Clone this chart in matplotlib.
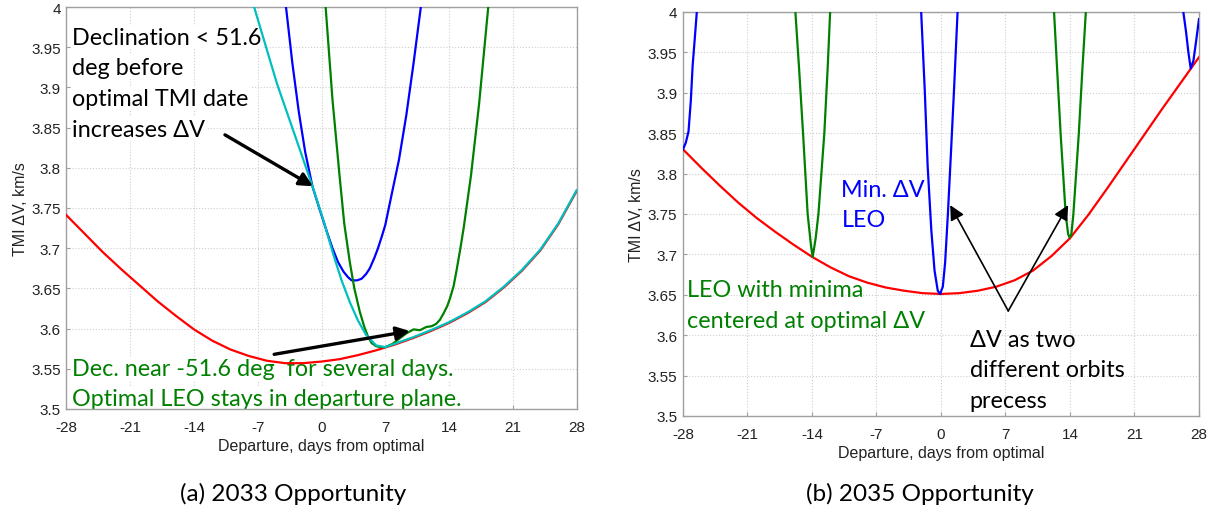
import numpy as np
import matplotlib.pyplot as plt
from matplotlib.ticker import FuncFormatter

plt.rcParams['axes.unicode_minus'] = False

# ---------------- data ----------------
# (a) 2033 opportunity
opt33_days = [-28, -26, -24, -22, -20, -18, -16, -14, -12, -10, -8, -6, -4, -2, 0,
              2, 4, 6, 8, 10, 12, 14, 16, 18, 20, 22, 24, 26, 28]
opt33_dv = [3.741, 3.718, 3.695, 3.674, 3.654, 3.634, 3.616, 3.599, 3.585, 3.574, 3.566,
            3.560, 3.557, 3.557, 3.559, 3.562, 3.567, 3.573, 3.580, 3.588, 3.597, 3.607,
            3.619, 3.633, 3.651, 3.672, 3.697, 3.730, 3.771]

cyan33_days = [-7.4, -4.9, -2.3, -1.0, 0.2, 1.3, 2.2, 3.1, 4.0, 4.9, 6.0, 7.0,
               8, 10, 12, 14, 16, 18, 20, 22, 24, 26, 28]
cyan33_dv = [4.0, 3.905, 3.82, 3.777, 3.735, 3.692, 3.66, 3.633, 3.61, 3.592, 3.579, 3.577,
             3.581, 3.589, 3.598, 3.608, 3.620, 3.634, 3.652, 3.673, 3.698, 3.731, 3.772]

blue33_days = [-3.9, -3.2, -2.5, -1.8, -1.0, -0.2, 0.6, 1.2, 1.8, 2.4, 2.9, 3.3, 3.9, 4.4,
               4.9, 5.3, 5.8, 6.2, 6.6, 7.0, 7.7, 8.5, 9.3, 10.1, 10.9]
blue33_dv = [4.0, 3.93, 3.87, 3.82, 3.777, 3.748, 3.72, 3.70, 3.683, 3.671, 3.664, 3.660,
             3.660, 3.662, 3.668, 3.675, 3.688, 3.70, 3.714, 3.729, 3.767, 3.81, 3.865, 3.93, 4.0]

green33_days = [0.45, 1.2, 2.0, 2.5, 3.1, 3.6, 4.2, 4.7, 5.1, 5.5, 6.0, 6.5, 7.0, 7.8, 8.6,
                9.3, 10.1, 10.8, 11.5, 12.1, 12.6, 13.0, 13.4, 13.8, 14.1, 14.5, 14.8, 15.2,
                15.6, 16.4, 17.3, 18.3]
green33_dv = [4.0, 3.885, 3.7875, 3.73, 3.683, 3.65, 3.621, 3.602, 3.59, 3.582, 3.578, 3.577,
              3.577, 3.581, 3.588, 3.594, 3.599, 3.598, 3.602, 3.603, 3.606, 3.611, 3.619,
              3.628, 3.6375, 3.653, 3.671, 3.697, 3.725, 3.79, 3.88, 4.0]

# (b) 2035 opportunity
opt35_days = [-28, -26, -24, -22, -20, -18, -16, -14, -12, -10, -8, -6, -4, -2, 0,
              2, 4, 6, 8, 10, 12, 14, 16, 18, 20, 22, 24, 26, 28]
opt35_dv = [3.830, 3.807, 3.785, 3.764, 3.745, 3.728, 3.712, 3.697, 3.684, 3.673, 3.665,
            3.659, 3.655, 3.652, 3.651, 3.652, 3.655, 3.660, 3.668, 3.680, 3.698, 3.720,
            3.749, 3.781, 3.814, 3.847, 3.880, 3.912, 3.944]

blue35a_days = [-28, -27.7, -27.4, -27.15, -26.95, -26.7, -26.5]
blue35a_dv = [3.83, 3.838, 3.852, 3.89, 3.934, 3.97, 4.0]
blue35b_days = [-2.15, -1.75, -1.45, -1.05, -0.7, -0.35, -0.1, 0.2, 0.45, 0.75, 1.1, 1.4, 1.8]
blue35b_dv = [4.0, 3.90, 3.81, 3.73, 3.68, 3.655, 3.651, 3.66, 3.69, 3.75, 3.83, 3.90, 4.0]
blue35c_days = [26.3, 26.6, 26.85, 27.1, 27.4, 27.7, 28]
blue35c_dv = [4.0, 3.975, 3.95, 3.93, 3.94, 3.965, 3.991]

green35a_days = [-15.8, -15.4, -14.97, -14.47, -14.1, -13.92, -13.6, -13.3, -12.66, -12.3, -12.03]
green35a_dv = [4.0, 3.93, 3.85, 3.75, 3.71, 3.697, 3.72, 3.75, 3.85, 3.93, 4.0]
green35b_days = [12.27, 12.6, 12.98, 13.53, 13.8, 13.95, 14.15, 14.37, 14.96, 15.35, 15.72]
green35b_dv = [4.0, 3.93, 3.85, 3.75, 3.725, 3.721, 3.725, 3.75, 3.85, 3.93, 4.0]

day_ticks = [-28, -21, -14, -7, 0, 7, 14, 21, 28]
dv_ticks = [3.5, 3.55, 3.6, 3.65, 3.7, 3.75, 3.8, 3.85, 3.9, 3.95, 4.0]

RED = '#ff0000'
BLUE = '#0000ff'
GREEN = '#008000'
CYAN = '#00bfbf'
TEXT_FONT = ['Lato', 'DejaVu Sans']
AXIS_FONT = ['Liberation Sans', 'DejaVu Sans']


def style_axes(ax):
    ax.set_xlim(-28, 28)
    ax.set_ylim(3.5, 4.0)
    ax.set_xticks(day_ticks)
    ax.set_yticks(dv_ticks)
    ax.yaxis.set_major_formatter(FuncFormatter(lambda v, p: '%g' % v))
    ax.grid(True, color='#cfcfcf', linestyle=':', linewidth=0.8)
    ax.set_axisbelow(True)
    for s in ax.spines.values():
        s.set_color('#a0a0a0')
        s.set_linewidth(1.0)
    ax.tick_params(direction='in', length=3, color='#a0a0a0', labelsize=11,
                   labelcolor='#222222')
    ax.tick_params(axis='x', pad=8)
    ax.tick_params(axis='y', pad=4)
    for lab in ax.get_xticklabels() + ax.get_yticklabels():
        lab.set_family(AXIS_FONT)
    ax.set_xlabel('Departure, days from optimal', fontsize=11.5, family=AXIS_FONT,
                  color='#222222', labelpad=3)
    ax.set_ylabel('TMI ΔV, km/s', fontsize=11.5, family=AXIS_FONT, color='#222222')
    ax.yaxis.set_label_coords(-0.075, 0.5)


def add_lines(ax, x, baselines, lines, color, box=False):
    for y, s in zip(baselines, lines):
        kw = {}
        if box:
            kw['bbox'] = dict(facecolor='white', edgecolor='none', pad=1.0)
        ax.text(x, y, s, color=color, fontsize=16.8, family=TEXT_FONT, va='baseline',
                ha='left', zorder=2, **kw)


fig = plt.figure(figsize=(12.17, 5.10), dpi=100)
ax1 = fig.add_axes([0.0546, 0.1961, 0.4192, 0.7882])
ax2 = fig.add_axes([0.5612, 0.1824, 0.4240, 0.7922])

# ---- (a) ----
ax1.plot(opt33_days, opt33_dv, color=RED, lw=1.6, zorder=3)
ax1.plot(blue33_days, blue33_dv, color=BLUE, lw=1.6, zorder=3)
ax1.plot(green33_days, green33_dv, color=GREEN, lw=1.6, zorder=3)
ax1.plot(cyan33_days, cyan33_dv, color=CYAN, lw=1.6, zorder=4)
style_axes(ax1)

add_lines(ax1, -27.4, [3.954, 3.917, 3.878, 3.840],
          ['Declination < 51.6', 'deg before', 'optimal TMI date', 'increases ΔV'],
          'black', box=True)
add_lines(ax1, -27.4, [3.542, 3.505],
          ['Dec. near -51.6 deg  for several days.', 'Optimal LEO stays in departure plane.'],
          GREEN, box=True)

thick = dict(arrowstyle='-|>', color='black', lw=2.4, mutation_scale=20, shrinkA=0, shrinkB=0)
ax1.annotate('', xy=(-0.94, 3.777), xytext=(-10.6, 3.841), arrowprops=thick, zorder=6)
ax1.annotate('', xy=(9.7, 3.597), xytext=(-5.2, 3.568), arrowprops=thick, zorder=6)

# ---- (b) ----
ax2.plot(opt35_days, opt35_dv, color=RED, lw=1.6, zorder=3)
for d, v in [(blue35a_days, blue35a_dv), (blue35b_days, blue35b_dv), (blue35c_days, blue35c_dv)]:
    ax2.plot(d, v, color=BLUE, lw=1.6, zorder=4)
for d, v in [(green35a_days, green35a_dv), (green35b_days, green35b_dv)]:
    ax2.plot(d, v, color=GREEN, lw=1.6, zorder=4)
style_axes(ax2)

add_lines(ax2, -10.8, [3.772, 3.735], ['Min. ΔV', 'LEO'], BLUE)
add_lines(ax2, -27.6, [3.649, 3.610], ['LEO with minima', 'centered at optimal ΔV'], GREEN)
add_lines(ax2, 3.1, [3.587, 3.550, 3.511], ['ΔV as two', 'different orbits', 'precess'], 'black')

thin = dict(arrowstyle='-|>', color='black', lw=1.2, mutation_scale=22, shrinkA=0, shrinkB=0)
ax2.annotate('', xy=(1.0, 3.761), xytext=(7.3, 3.630), arrowprops=thin, zorder=6)
ax2.annotate('', xy=(13.8, 3.761), xytext=(7.3, 3.630), arrowprops=thin, zorder=6)

# captions
fig.text(293 / 1217, 1 - 494 / 510, '(a) 2033 Opportunity', ha='center', va='center',
         fontsize=17.5, family=TEXT_FONT)
fig.text(920 / 1217, 1 - 494 / 510, '(b) 2035 Opportunity', ha='center', va='center',
         fontsize=17.5, family=TEXT_FONT)

fig.savefig('out.png', dpi=100)
